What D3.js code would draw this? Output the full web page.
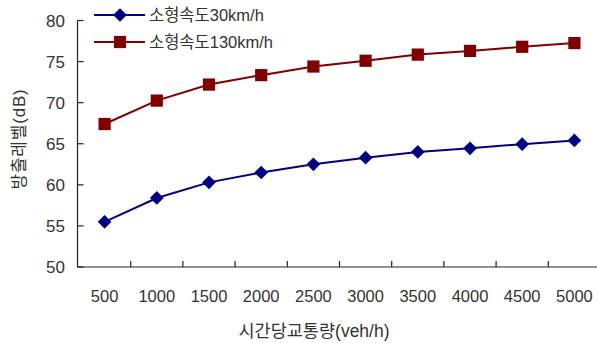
<!DOCTYPE html>
<html>
<head>
<meta charset="utf-8">
<script src="https://cdn.jsdelivr.net/npm/d3@7"></script>
<style>
  html, body { margin: 0; padding: 0; background: #fff; }
  svg { display: block; }
  text { font-family: "Liberation Sans", "Noto Sans CJK KR", sans-serif; fill: #333; }
</style>
</head>
<body>
<svg id="chart" width="597" height="343"></svg>
<script>
// Traffic volume per hour (x categories)
const volumes = ["500", "1000", "1500", "2000", "2500", "3000", "3500", "4000", "4500", "5000"];
// Emission level (dB) for small vehicles at 30 km/h and 130 km/h
const speed30 = [55.5, 58.4, 60.3, 61.5, 62.5, 63.3, 64.0, 64.45, 64.95, 65.4];
const speed130 = [67.4, 70.25, 72.2, 73.35, 74.4, 75.1, 75.85, 76.3, 76.8, 77.25];
const seriesNames = ["소형속도30km/h", "소형속도130km/h"];
const yTicks = [50, 55, 60, 65, 70, 75, 80];

const svg = d3.select("#chart");
const x = d3.scaleBand().domain(volumes).range([78.5, 600.5]);
const y = d3.scaleLinear().domain([50, 80]).range([267, 20.5]);

const series = [
  { name: seriesNames[0], values: speed30, color: "#000080", shape: d3.symbolDiamond2, size: 120 },
  { name: seriesNames[1], values: speed130, color: "#800000", shape: d3.symbolSquare2, size: 190 }
];

// Axes
const axisColor = "#222";
svg.append("line").attr("x1", 77.5).attr("x2", 77.5).attr("y1", y(80)).attr("y2", y(50))
  .attr("stroke", axisColor).attr("stroke-width", 1.2);
svg.append("line").attr("x1", 77).attr("x2", 597).attr("y1", y(50)).attr("y2", y(50))
  .attr("stroke", axisColor).attr("stroke-width", 1.2);

// Y ticks (inside) and labels
yTicks.forEach(v => {
  svg.append("line").attr("x1", 77.5).attr("x2", 83.5).attr("y1", y(v)).attr("y2", y(v))
    .attr("stroke", axisColor).attr("stroke-width", 1.2);
  svg.append("text").attr("x", 65).attr("y", y(v)).attr("dy", "0.36em")
    .attr("text-anchor", "end").attr("font-size", 17).text(v);
});

// X ticks between categories (inside) and labels
volumes.forEach((c, i) => {
  if (i > 0) {
    const bx = x(c);
    svg.append("line").attr("x1", bx).attr("x2", bx).attr("y1", y(50)).attr("y2", y(50) - 6)
      .attr("stroke", axisColor).attr("stroke-width", 1.2);
  }
  svg.append("text").attr("x", x(c) + x.bandwidth() / 2).attr("y", 302)
    .attr("text-anchor", "middle").attr("font-size", 16.5).text(c);
});

// Axis titles
svg.append("text").attr("x", 314).attr("y", 337).attr("text-anchor", "middle")
  .attr("font-size", 17.5).text("시간당교통량(veh/h)");
svg.append("text").attr("transform", "translate(25,139) rotate(-90)")
  .attr("text-anchor", "middle").attr("font-size", 17).attr("letter-spacing", 0.8)
  .text("방출레벨(dB)");

// Lines and markers
const line = d3.line().x((d, i) => x(volumes[i]) + x.bandwidth() / 2).y(d => y(d));
series.forEach(s => {
  svg.append("path").datum(s.values).attr("d", line)
    .attr("fill", "none").attr("stroke", s.color).attr("stroke-width", 2);
  svg.selectAll(null).data(s.values).enter().append("path")
    .attr("d", d3.symbol().type(s.shape).size(s.size))
    .attr("transform", (d, i) => `translate(${x(volumes[i]) + x.bandwidth() / 2},${y(d)})`)
    .attr("fill", s.color);
});

// Legend
series.forEach((s, i) => {
  const ly = 15 + i * 27;
  svg.append("line").attr("x1", 94).attr("x2", 145).attr("y1", ly).attr("y2", ly)
    .attr("stroke", s.color).attr("stroke-width", 2);
  svg.append("path").attr("d", d3.symbol().type(s.shape).size(s.size))
    .attr("transform", `translate(120,${ly})`).attr("fill", s.color);
  svg.append("text").attr("x", 149).attr("y", ly).attr("dy", "0.36em")
    .attr("font-size", 16.5).text(s.name);
});
</script>
</body>
</html>
